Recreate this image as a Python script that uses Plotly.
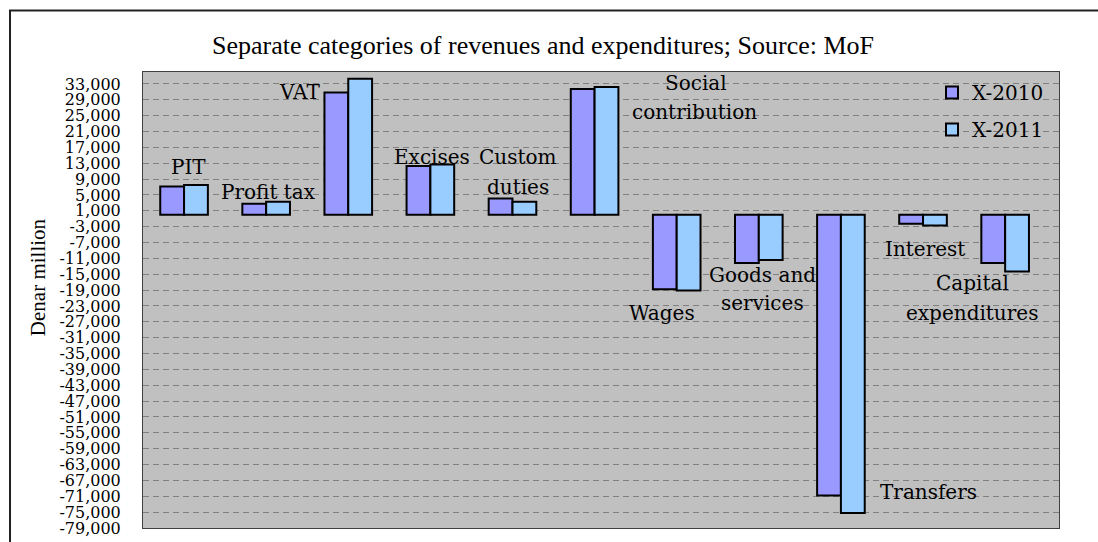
import plotly.graph_objects as go

categories = ["PIT", "Profit tax", "VAT", "Excises", "Custom duties", "Social contribution",
              "Wages", "Goods and services", "Transfers", "Interest", "Capital expenditures"]
x2010 = [7100, 2800, 30800, 12300, 4100, 31700, -18800, -12200, -70800, -2300, -12200]
x2011 = [7500, 3300, 34300, 12700, 3300, 32200, -19100, -11400, -75200, -2700, -14300]
tick_vals = list(range(33000, -79001, -4000))
tick_text = [f"{v:,}" for v in tick_vals]

# label texts with position (category index units, value units)
labels = [
    ("PIT", 0.05, 12140, "center"),
    ("Profit tax", 1.03, 5815, "center"),
    ("VAT", 1.675, 30850, "right"),
    ("Excises", 3.02, 14665, "center"),
    ("Custom", 4.065, 14665, "center"),
    ("duties", 4.065, 7080, "center"),
    ("Social", 6.24, 33220, "center"),
    ("contribution", 6.22, 25790, "center"),
    ("Wages", 5.815, -24780, "center"),
    ("Goods and", 7.05, -15250, "center"),
    ("services", 7.05, -22330, "center"),
    ("Transfers", 9.07, -69860, "center"),
    ("Interest", 9.03, -8750, "center"),
    ("Capital", 9.60, -17270, "center"),
    ("expenditures", 9.60, -24780, "center"),
]

fig = go.Figure()
fig.add_trace(go.Bar(name="X-2010", x=categories, y=x2010, legendgroup="a",
                     marker=dict(color="#9999FF", line=dict(color="#000000", width=2))))
fig.add_trace(go.Bar(name="X-2011", x=categories, y=x2011, legendgroup="b",
                     marker=dict(color="#99CCFF", line=dict(color="#000000", width=2))))

for txt, xu, yv, anc in labels:
    fig.add_annotation(x=xu, y=yv, xref="x", yref="y", text=txt, showarrow=False,
                       xanchor=anc, yanchor="middle",
                       font=dict(family="DejaVu Serif", size=20, color="#000000"))

fig.add_annotation(x=-0.115, y=(528 - 277.5) / 456, xref="paper", yref="paper",
                   text="Denar million", textangle=-90, showarrow=False,
                   xanchor="center", yanchor="middle",
                   font=dict(family="Liberation Serif", size=21, color="#000000"))

# outer chart border
fig.add_shape(type="rect", xref="paper", yref="paper",
              x0=(10 - 143) / 916, x1=(1110 - 143) / 916,
              y0=-0.1, y1=(528 - 10.5) / 456,
              line=dict(color="#222222", width=2), fillcolor="rgba(0,0,0,0)", layer="below")

fig.update_layout(
    width=1098, height=542,
    margin=dict(l=143, r=39, t=72, b=14, autoexpand=False),
    paper_bgcolor="#FFFFFF", plot_bgcolor="#C0C0C0",
    barmode="group", bargap=0.42, bargroupgap=0,
    title=dict(text="Separate categories of revenues and expenditures; Source: MoF",
               x=543 / 1098, xanchor="center",
               y=1 - 45 / 542, yanchor="middle",
               font=dict(family="Liberation Serif", size=26, color="#000000")),
    xaxis=dict(type="category", range=[-0.5, 10.656], showticklabels=False, showgrid=False,
               ticks="", showline=True, mirror=True, linecolor="#404040", linewidth=1,
               automargin=False),
    yaxis=dict(range=[-79000, 36000], tickvals=tick_vals, ticktext=tick_text,
               showgrid=True, gridcolor="#808080", griddash="6px,4px", gridwidth=1,
               zeroline=False, showline=True, mirror=True, linecolor="#404040", linewidth=1,
               ticks="", ticklabelstandoff=18, automargin=False,
               tickfont=dict(family="DejaVu Serif", size=16, color="#000000")),
    legend=dict(x=(932 - 143) / 916, y=(528 - 73) / 456, xanchor="left", yanchor="top",
                bgcolor="rgba(0,0,0,0)", tracegroupgap=8, itemsizing="constant",
                font=dict(family="DejaVu Serif", size=20, color="#000000")),
    showlegend=True,
)

fig.write_html("out.html", config={"displayModeBar": False},
               post_script="document.body.style.margin='0';document.body.style.padding='0';")
